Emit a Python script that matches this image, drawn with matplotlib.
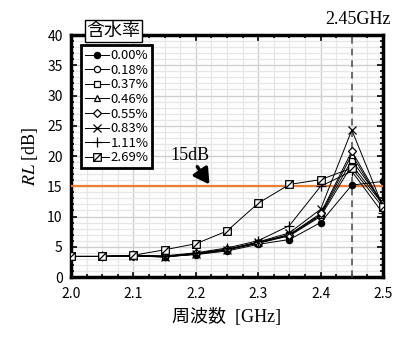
import matplotlib
matplotlib.use('Agg')
from matplotlib import pyplot as plt
from matplotlib.path import Path
from matplotlib.ticker import MultipleLocator

plt.rcParams['mathtext.fontset'] = 'stix'

# Datos
frecuencia = [2.0, 2.05, 2.1, 2.15, 2.2, 2.25, 2.3, 2.35, 2.4, 2.45, 2.5]
contenidos = ['0.00%', '0.18%', '0.37%', '0.46%', '0.55%', '0.83%', '1.11%', '2.69%']
rl_000 = [3.4, 3.4, 3.5, 3.4, 3.7, 4.3, 5.4, 6.2, 9.0, 15.2, 15.8]
rl_018 = [3.4, 3.4, 3.5, 3.4, 3.8, 4.5, 5.6, 6.8, 10.0, 18.5, 12.0]
rl_037 = [3.4, 3.4, 3.5, 3.3, 3.8, 4.5, 5.6, 6.9, 10.2, 19.3, 12.2]
rl_046 = [3.4, 3.4, 3.5, 3.4, 3.9, 4.6, 5.7, 7.0, 10.3, 20.2, 11.8]
rl_055 = [3.4, 3.4, 3.5, 3.4, 3.9, 4.6, 5.7, 7.0, 10.5, 20.8, 11.9]
rl_083 = [3.4, 3.4, 3.5, 3.3, 3.8, 4.5, 5.8, 7.3, 11.2, 24.3, 11.6]
rl_111 = [3.4, 3.4, 3.6, 3.5, 4.0, 4.8, 6.0, 8.5, 15.0, 17.5, 10.5]
rl_269 = [3.4, 3.4, 3.6, 4.5, 5.5, 7.6, 12.2, 15.3, 16.1, 18.0, 11.5]
series = [rl_000, rl_018, rl_037, rl_046, rl_055, rl_083, rl_111, rl_269]
x_ticks = [2.0, 2.1, 2.2, 2.3, 2.4, 2.5]
y_ticks = [0, 5, 10, 15, 20, 25, 30, 35, 40]
umbral = 15
frec_objetivo = 2.45

# Cuadrado con diagonal
cuadrado_diag = Path(
    [(-1, -1), (1, -1), (1, 1), (-1, 1), (-1, -1), (-1, -1), (1, 1)],
    [Path.MOVETO, Path.LINETO, Path.LINETO, Path.LINETO, Path.CLOSEPOLY,
     Path.MOVETO, Path.LINETO])

estilos = [
    dict(marker='o', mfc='black', ms=4.5),
    dict(marker='o', mfc='white', ms=4.5),
    dict(marker='s', mfc='white', ms=5),
    dict(marker='^', mfc='white', ms=5),
    dict(marker='D', mfc='white', ms=4),
    dict(marker='x', mfc='white', ms=5.5),
    dict(marker='+', mfc='white', ms=6.5),
    dict(marker=cuadrado_diag, mfc='white', ms=5.5),
]

sans = ['Noto Sans CJK JP', 'DejaVu Sans']
serif = ['Liberation Serif', 'Noto Sans CJK JP']

fig = plt.figure(figsize=(4.0, 3.37), dpi=100)
ax = fig.add_axes([0.1775, 0.178, 0.78, 0.718])

for valores, etiqueta, est in zip(series, contenidos, estilos):
    ax.plot(frecuencia, valores, color='black', lw=0.7, mec='black', mew=0.9,
            label=etiqueta, zorder=4, **est)

ax.axhline(umbral, color='#ED7D31', lw=1.6, zorder=3)
ax.axvline(frec_objetivo, color='#555555', lw=1.2, ls=(0, (4, 3)), zorder=3)

ax.set_xlim(2.0, 2.5)
ax.set_ylim(0, 40)
ax.set_xticks(x_ticks)
ax.set_xticklabels([f'{v:.1f}' for v in x_ticks], family=sans, fontsize=10)
ax.set_yticks(y_ticks)
ax.set_yticklabels([str(v) for v in y_ticks], family=sans, fontsize=10)
ax.xaxis.set_minor_locator(MultipleLocator(0.025))
ax.yaxis.set_minor_locator(MultipleLocator(1))
ax.grid(True, which='major', color='#cfcfcf', lw=1.0, zorder=0)
ax.grid(True, which='minor', color='#e6e6e6', lw=0.9, zorder=0)
ax.set_axisbelow(True)
ax.tick_params(which='both', direction='in', top=True, right=True, width=1.2)
ax.tick_params(which='major', length=4)
ax.tick_params(axis='x', which='major', pad=7)
ax.tick_params(axis='y', which='major', pad=6)
ax.tick_params(which='minor', length=2)
for s in ax.spines.values():
    s.set_linewidth(2.5)

ax.set_xlabel('周波数  [GHz]', family=serif, fontsize=13, labelpad=5)
ax.set_ylabel('$\\mathit{RL}$ [dB]', family=serif, fontsize=13, labelpad=5)

ax.text(2.512, 41.2, '2.45GHz', family=serif, fontsize=13, ha='right', va='bottom')
ax.annotate('15dB', xy=(2.222, 15.3), xytext=(2.19, 18.7), family=serif, fontsize=13,
            ha='center', va='bottom',
            arrowprops=dict(arrowstyle='-|>,head_width=0.4,head_length=0.7',
                            color='black', lw=2.5, shrinkA=0, shrinkB=0))

leg = ax.legend(loc='upper left', bbox_to_anchor=(0.012, 0.985), prop={'family': sans, 'size': 9.5},
                handlelength=1.8, handletextpad=0.1, labelspacing=0.12,
                borderpad=0.3, fancybox=False, framealpha=1, edgecolor='black')
leg.get_frame().set_linewidth(2)
leg.set_zorder(6)
ax.text(0.05, 1.017, '含水率', transform=ax.transAxes, family=sans, fontsize=13,
        ha='left', va='center', zorder=7,
        bbox=dict(boxstyle='square,pad=0.1', fc='white', ec='black', lw=1))

plt.savefig('out.png', dpi=100)
